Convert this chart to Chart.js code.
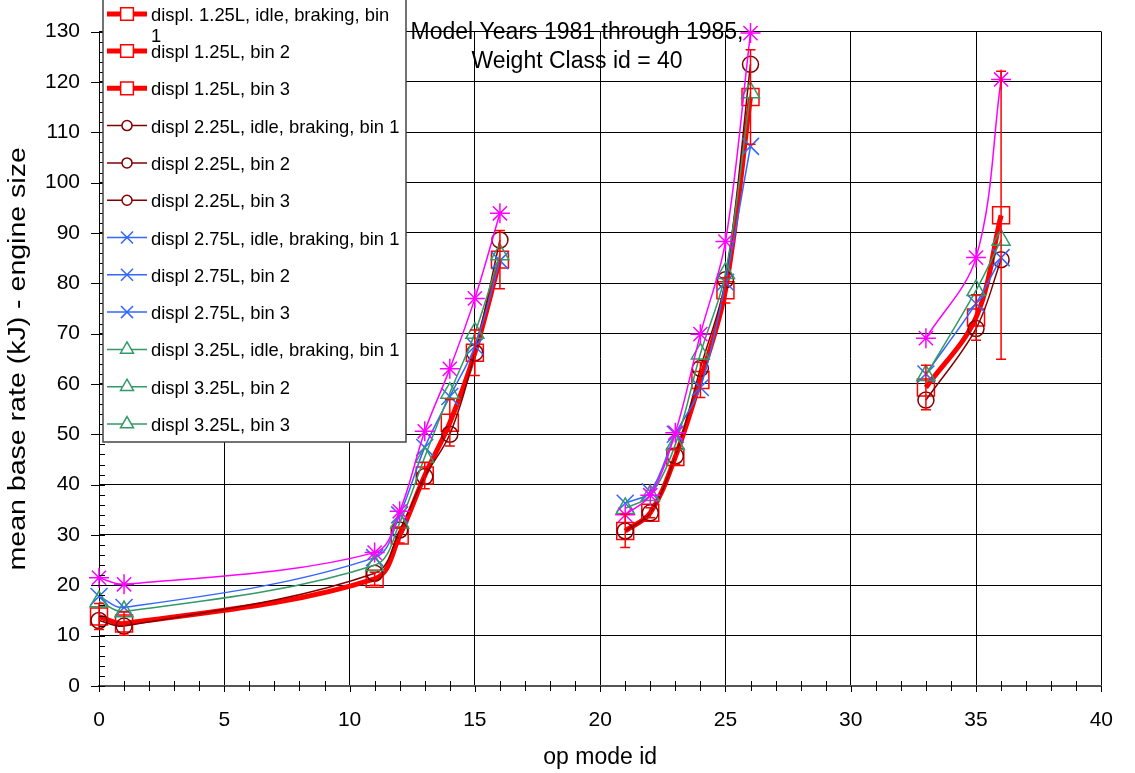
<!DOCTYPE html>
<html>
<head>
<meta charset="utf-8">
<script src="https://cdn.jsdelivr.net/npm/chart.js@4/dist/chart.umd.min.js"></script>
<style>
  body { margin: 0; background: #fff; }
  #wrap { width: 1135px; height: 773px; }
</style>
</head>
<body>
<div id="wrap"><canvas id="myChart" width="1135" height="773"></canvas></div>
<script>
// op mode ids for each speed bin
var bin1Modes = [0, 1, 11, 12, 13, 14, 15, 16];
var bin2Modes = [21, 22, 23, 24, 25, 26];
var bin3Modes = [33, 35, 36];

// mean base rate (kJ) per displacement and bin
var d125Bin1 = [13.8, 12.4, 21.3, 29.9, 41.8, 52.3, 66.2, 84.7];
var d125Bin2 = [30.8, 34.4, 45.5, 60.8, 78.6, 117.0];
var d125Bin3 = [59.3, 73.2, 93.5];
var d225Bin1 = [13.0, 11.9, 22.4, 31.0, 41.6, 50.0, 66.2, 88.6];
var d225Bin2 = [30.8, 34.4, 45.7, 63.1, 80.7, 123.5];
var d225Bin3 = [56.8, 71.0, 84.7];
var d275Bin1 = [17.8, 15.6, 25.5, 34.0, 47.4, 57.5, 67.5, 84.5];
var d275Bin2 = [36.3, 38.6, 50.0, 59.3, 80.2, 107.2];
var d275Bin3 = [62.0, 76.0, 85.1];
var d325Bin1 = [16.8, 14.8, 24.0, 32.4, 45.5, 58.2, 70.1, 85.7];
var d325Bin2 = [35.3, 37.9, 48.0, 66.0, 82.0, 117.9];
var d325Bin3 = [61.7, 78.6, 88.6];
var d375Bin1 = [21.5, 20.2, 26.5, 34.7, 50.6, 63.0, 77.0, 93.9];
var d375Bin2 = [34.0, 37.9, 50.3, 69.9, 88.3, 129.7];
var d375Bin3 = [69.1, 85.1, 120.5];

// +/- error for the 1.25L series
var d125Bin1Err = [2.6, 2.3, 1.3, 1.5, 2.6, 4.6, 4.5, 5.8];
var d125Bin2Err = [3.3, 1.0, 1.5, 3.5, 2.5, 9.4];
var d125Bin3Err = [4.4, 4.5, 28.6];

var seriesLabels = [
  'displ. 1.25L, idle, braking, bin 1', 'displ 1.25L, bin 2', 'displ 1.25L, bin 3',
  'displ 2.25L, idle, braking, bin 1', 'displ 2.25L, bin 2', 'displ 2.25L, bin 3',
  'displ 2.75L, idle, braking, bin 1', 'displ 2.75L, bin 2', 'displ 2.75L, bin 3',
  'displ 3.25L, idle, braking, bin 1', 'displ 3.25L, bin 2', 'displ 3.25L, bin 3',
  'displ 3.75L, idle, braking, bin 1', 'displ 3.75L, bin 2', 'displ 3.75L, bin 3'
];

var FONT = 'Liberation Sans';

var styles = [
  { color: '#FF0000', width: 5, point: 'rect', radius: 12, legendRadius: 9 },
  { color: '#800000', width: 1.5, point: 'circle', radius: 8, legendRadius: 5 },
  { color: '#3366FF', width: 1.5, point: 'crossRot', radius: 12, legendRadius: 8.5 },
  { color: '#339966', width: 1.5, point: 'triangle', radius: 10.4, legendRadius: 7.5 },
  { color: '#FF00FF', width: 1.5, point: 'star', radius: 10, legendRadius: 7 }
];

var groups = [
  [d125Bin1, d125Bin2, d125Bin3],
  [d225Bin1, d225Bin2, d225Bin3],
  [d275Bin1, d275Bin2, d275Bin3],
  [d325Bin1, d325Bin2, d325Bin3],
  [d375Bin1, d375Bin2, d375Bin3]
];
var modes = [bin1Modes, bin2Modes, bin3Modes];
var errs = [d125Bin1Err, d125Bin2Err, d125Bin3Err];

function toPoints(xs, ys) {
  return xs.map(function (x, i) { return { x: x, y: ys[i] }; });
}

var datasets = [];
groups.forEach(function (g, gi) {
  var s = styles[gi];
  g.forEach(function (vals, bi) {
    var idx = gi * 3 + bi;
    datasets.push({
      label: seriesLabels[idx],
      data: toPoints(modes[bi], vals),
      errBars: gi === 0 ? errs[bi] : null,
      borderColor: s.color,
      borderWidth: s.width,
      pointStyle: s.point,
      pointRadius: s.radius,
      pointHoverRadius: s.radius,
      pointBorderWidth: 1.5,
      pointBorderColor: s.color,
      pointBackgroundColor: 'rgba(0,0,0,0)',
      legendRadius: s.legendRadius,
      tension: 0.35,
      fill: false,
      clip: false,
      order: 15 - idx
    });
  });
});

// red error bars
var errorBars = {
  id: 'errorBars',
  afterDatasetsDraw: function (chart) {
    var ctx = chart.ctx;
    var yScale = chart.scales.y;
    chart.data.datasets.forEach(function (ds, i) {
      if (!ds.errBars) return;
      var meta = chart.getDatasetMeta(i);
      ctx.save();
      ctx.strokeStyle = ds.borderColor;
      ctx.lineWidth = 1.5;
      meta.data.forEach(function (pt, j) {
        var v = ds.data[j].y, e = ds.errBars[j];
        var top = yScale.getPixelForValue(v + e);
        var bot = yScale.getPixelForValue(v - e);
        ctx.beginPath();
        ctx.moveTo(pt.x, top); ctx.lineTo(pt.x, bot);
        ctx.moveTo(pt.x - 5, top); ctx.lineTo(pt.x + 5, top);
        ctx.moveTo(pt.x - 5, bot); ctx.lineTo(pt.x + 5, bot);
        ctx.stroke();
      });
      ctx.restore();
    });
  }
};

// major / minor tick marks along both axes
var tickMarks = {
  id: 'tickMarks',
  afterDraw: function (chart) {
    var ctx = chart.ctx, xs = chart.scales.x, ys = chart.scales.y;
    var x0 = xs.getPixelForValue(0), y0 = ys.getPixelForValue(0);
    ctx.save();
    ctx.strokeStyle = '#000';
    ctx.lineWidth = 1;
    ctx.beginPath();
    for (var v = 0; v <= 130; v += 2) {
      var py = Math.round(ys.getPixelForValue(v)) + 0.5;
      if (v % 10 === 0) { ctx.moveTo(x0 - 8, py); ctx.lineTo(x0, py); }
      ctx.moveTo(x0, py); ctx.lineTo(x0 + 6, py);
    }
    for (var u = 0; u <= 40; u += 1) {
      var px = Math.round(xs.getPixelForValue(u)) + 0.5;
      if (u % 5 === 0) { ctx.moveTo(px, y0); ctx.lineTo(px, y0 + 6); }
      else { ctx.moveTo(px, y0 - 5); ctx.lineTo(px, y0 + 5); }
    }
    ctx.stroke();

    // y axis title, stretched along its length
    ctx.fillStyle = '#000';
    ctx.font = '23px "' + FONT + '"';
    ctx.textAlign = 'center';
    ctx.textBaseline = 'middle';
    ctx.translate(19, (chart.chartArea.top + chart.chartArea.bottom) / 2);
    ctx.rotate(-Math.PI / 2);
    ctx.scale(1.24, 1);
    ctx.fillText('mean base rate (kJ) - engine size', 0, 0);
    ctx.restore();
  }
};

function wrapText(ctx, text, maxW) {
  if (ctx.measureText(text).width <= maxW) return [text];
  var words = text.split(' ');
  var last = words.pop();
  return [words.join(' '), last];
}

// chart title and boxed legend drawn over the plot
var overlay = {
  id: 'overlay',
  afterDraw: function (chart) {
    var ctx = chart.ctx;
    ctx.save();
    ctx.fillStyle = '#000';
    ctx.font = '23px "' + FONT + '"';
    ctx.textAlign = 'center';
    ctx.textBaseline = 'middle';
    ctx.fillText('Model Years 1981 through 1985,', 577, 33);
    ctx.fillText('Weight Class id = 40', 577, 62);

    ctx.fillStyle = '#fff';
    ctx.strokeStyle = '#444';
    ctx.lineWidth = 1.5;
    ctx.fillRect(103, -2, 303, 444);
    ctx.strokeRect(103, -2, 303, 444);

    ctx.font = '18.4px "' + FONT + '"';
    ctx.textAlign = 'left';
    for (var i = 0; i < 12; i++) {
      var ds = chart.data.datasets[i];
      var y = i === 0 ? 16 : 53 + (i - 1) * 37.3;
      ctx.strokeStyle = ds.borderColor;
      ctx.lineWidth = ds.borderWidth;
      ctx.beginPath();
      ctx.moveTo(107, y - 2); ctx.lineTo(147, y - 2);
      ctx.stroke();
      ctx.lineWidth = 1.5;
      ctx.fillStyle = '#fff';
      Chart.helpers.drawPoint(ctx, {
        pointStyle: ds.pointStyle, radius: ds.legendRadius, rotation: 0, borderWidth: 1.5
      }, 127, y - 2);
      ctx.fillStyle = '#000';
      var lines = wrapText(ctx, ds.label, 252);
      lines.forEach(function (ln, k) { ctx.fillText(ln, 151, y + k * 21); });
    }
    ctx.restore();
  }
};

Chart.defaults.font.family = FONT;
Chart.defaults.color = '#000';

var ctx = document.getElementById('myChart');
var myChart = new Chart(ctx, {
  type: 'line',
  data: { datasets: datasets },
  plugins: [errorBars, tickMarks, overlay],
  options: {
    responsive: false,
    animation: false,
    layout: { padding: { top: 21, right: 21, left: 0, bottom: 0 } },
    plugins: { legend: { display: false }, tooltip: { enabled: false } },
    scales: {
      x: {
        type: 'linear', min: 0, max: 40,
        ticks: { stepSize: 5, font: { size: 21 }, padding: 22, maxRotation: 0 },
        grid: { color: '#000', lineWidth: 1, drawTicks: false },
        border: { color: '#555', width: 2 },
        title: { display: true, text: 'op mode id', font: { size: 23 }, padding: { top: 0, bottom: 2 } },
        afterFit: function (scale) { scale.height = 87; }
      },
      y: {
        min: 0, max: 130,
        ticks: { stepSize: 10, font: { size: 21 }, padding: 19 },
        grid: { color: '#000', lineWidth: 1, drawTicks: false },
        border: { color: '#000', width: 1 },
        afterFit: function (scale) { scale.width = 99; }
      }
    }
  }
});
</script>
</body>
</html>
